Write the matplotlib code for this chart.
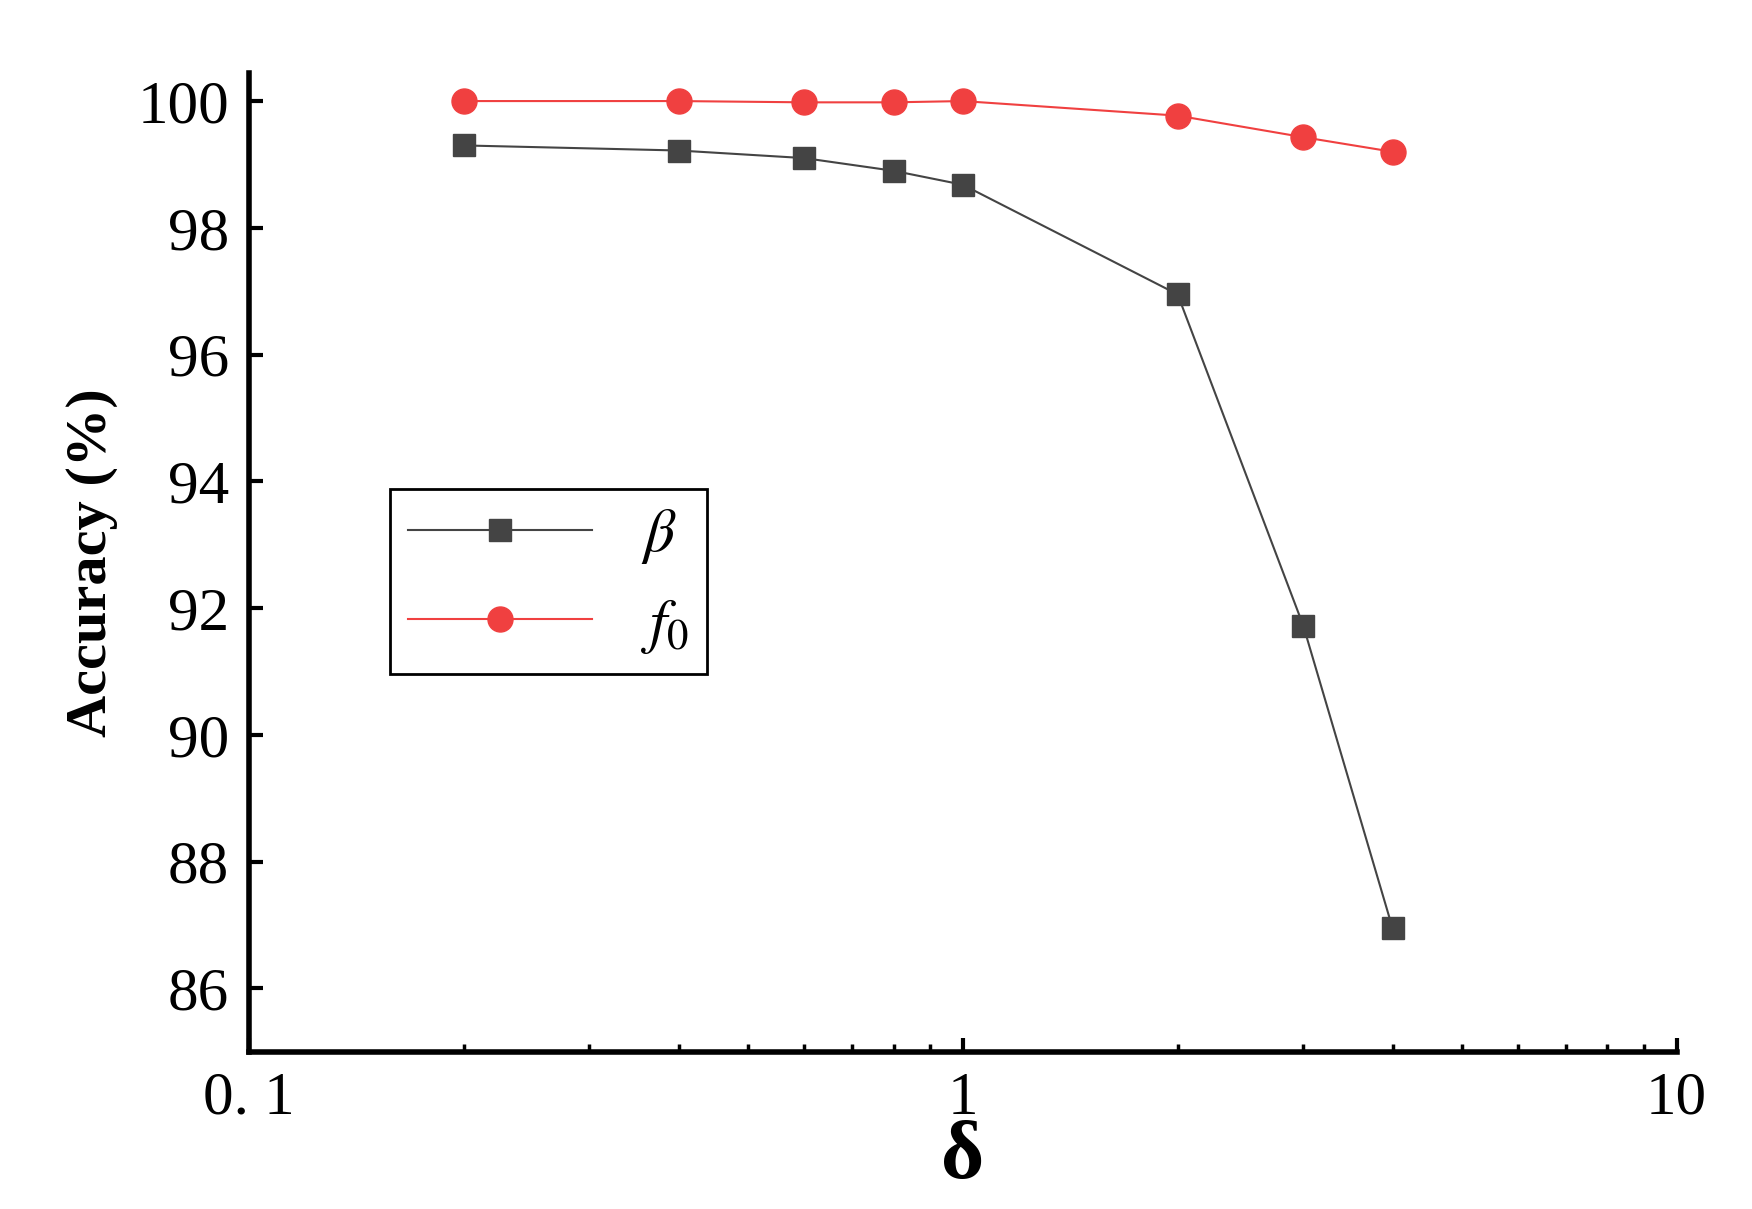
import matplotlib
matplotlib.use("Agg")
import matplotlib.pyplot as plt
from matplotlib.ticker import NullFormatter

delta = [0.2, 0.4, 0.6, 0.8, 1.0, 2.0, 3.0, 4.0]
acc_beta = [99.30, 99.22, 99.10, 98.90, 98.68, 96.95, 91.72, 86.95]
acc_f0 = [100.0, 100.0, 99.98, 99.98, 100.0, 99.77, 99.43, 99.20]
yticks = [86, 88, 90, 92, 94, 96, 98, 100]

plt.rcParams.update({
    "font.family": "serif",
    "font.serif": ["Liberation Serif", "DejaVu Serif"],
    "mathtext.fontset": "stix",
})

fig = plt.figure(figsize=(17.52, 12.09), dpi=100)
ax = fig.add_axes([0.142, 0.13, 0.815, 0.81])

ax.plot(delta, acc_beta, color="#444444", lw=1.5, marker="s", ms=16, label=r"$\beta$")
ax.plot(delta, acc_f0, color="#f04040", lw=1.5, marker="o", ms=18, label=r"$f_0$")

ax.set_xscale("log")
ax.set_xlim(0.1, 10)
ax.set_ylim(85, 100.45)
ax.set_xticks([0.1, 1, 10])
ax.set_xticklabels(["0. 1", "1", "10"])
ax.xaxis.set_minor_formatter(NullFormatter())
ax.set_yticks(yticks)
ax.set_yticklabels([str(v) for v in yticks])

for s in ["top", "right"]:
    ax.spines[s].set_visible(False)
for s in ["left", "bottom"]:
    ax.spines[s].set_linewidth(4)

ax.tick_params(axis="both", which="major", labelsize=44, width=3, length=10,
               direction="in", pad=14)
ax.tick_params(axis="x", which="minor", width=2.5, length=6, direction="in")

ax.set_xlabel("δ", fontsize=60, fontweight="bold", labelpad=-4)
ax.set_ylabel("Accuracy (%)", fontsize=42, fontweight="bold", labelpad=14)

leg = ax.legend(loc="upper left", bbox_to_anchor=(0.099, 0.575), fontsize=44,
                fancybox=False, edgecolor="black", framealpha=1,
                handlelength=3.0, borderpad=0.3, labelspacing=0.5,
                borderaxespad=0, handletextpad=0.8)
leg.get_frame().set_linewidth(2)

fig.savefig("out.png", dpi=100)
